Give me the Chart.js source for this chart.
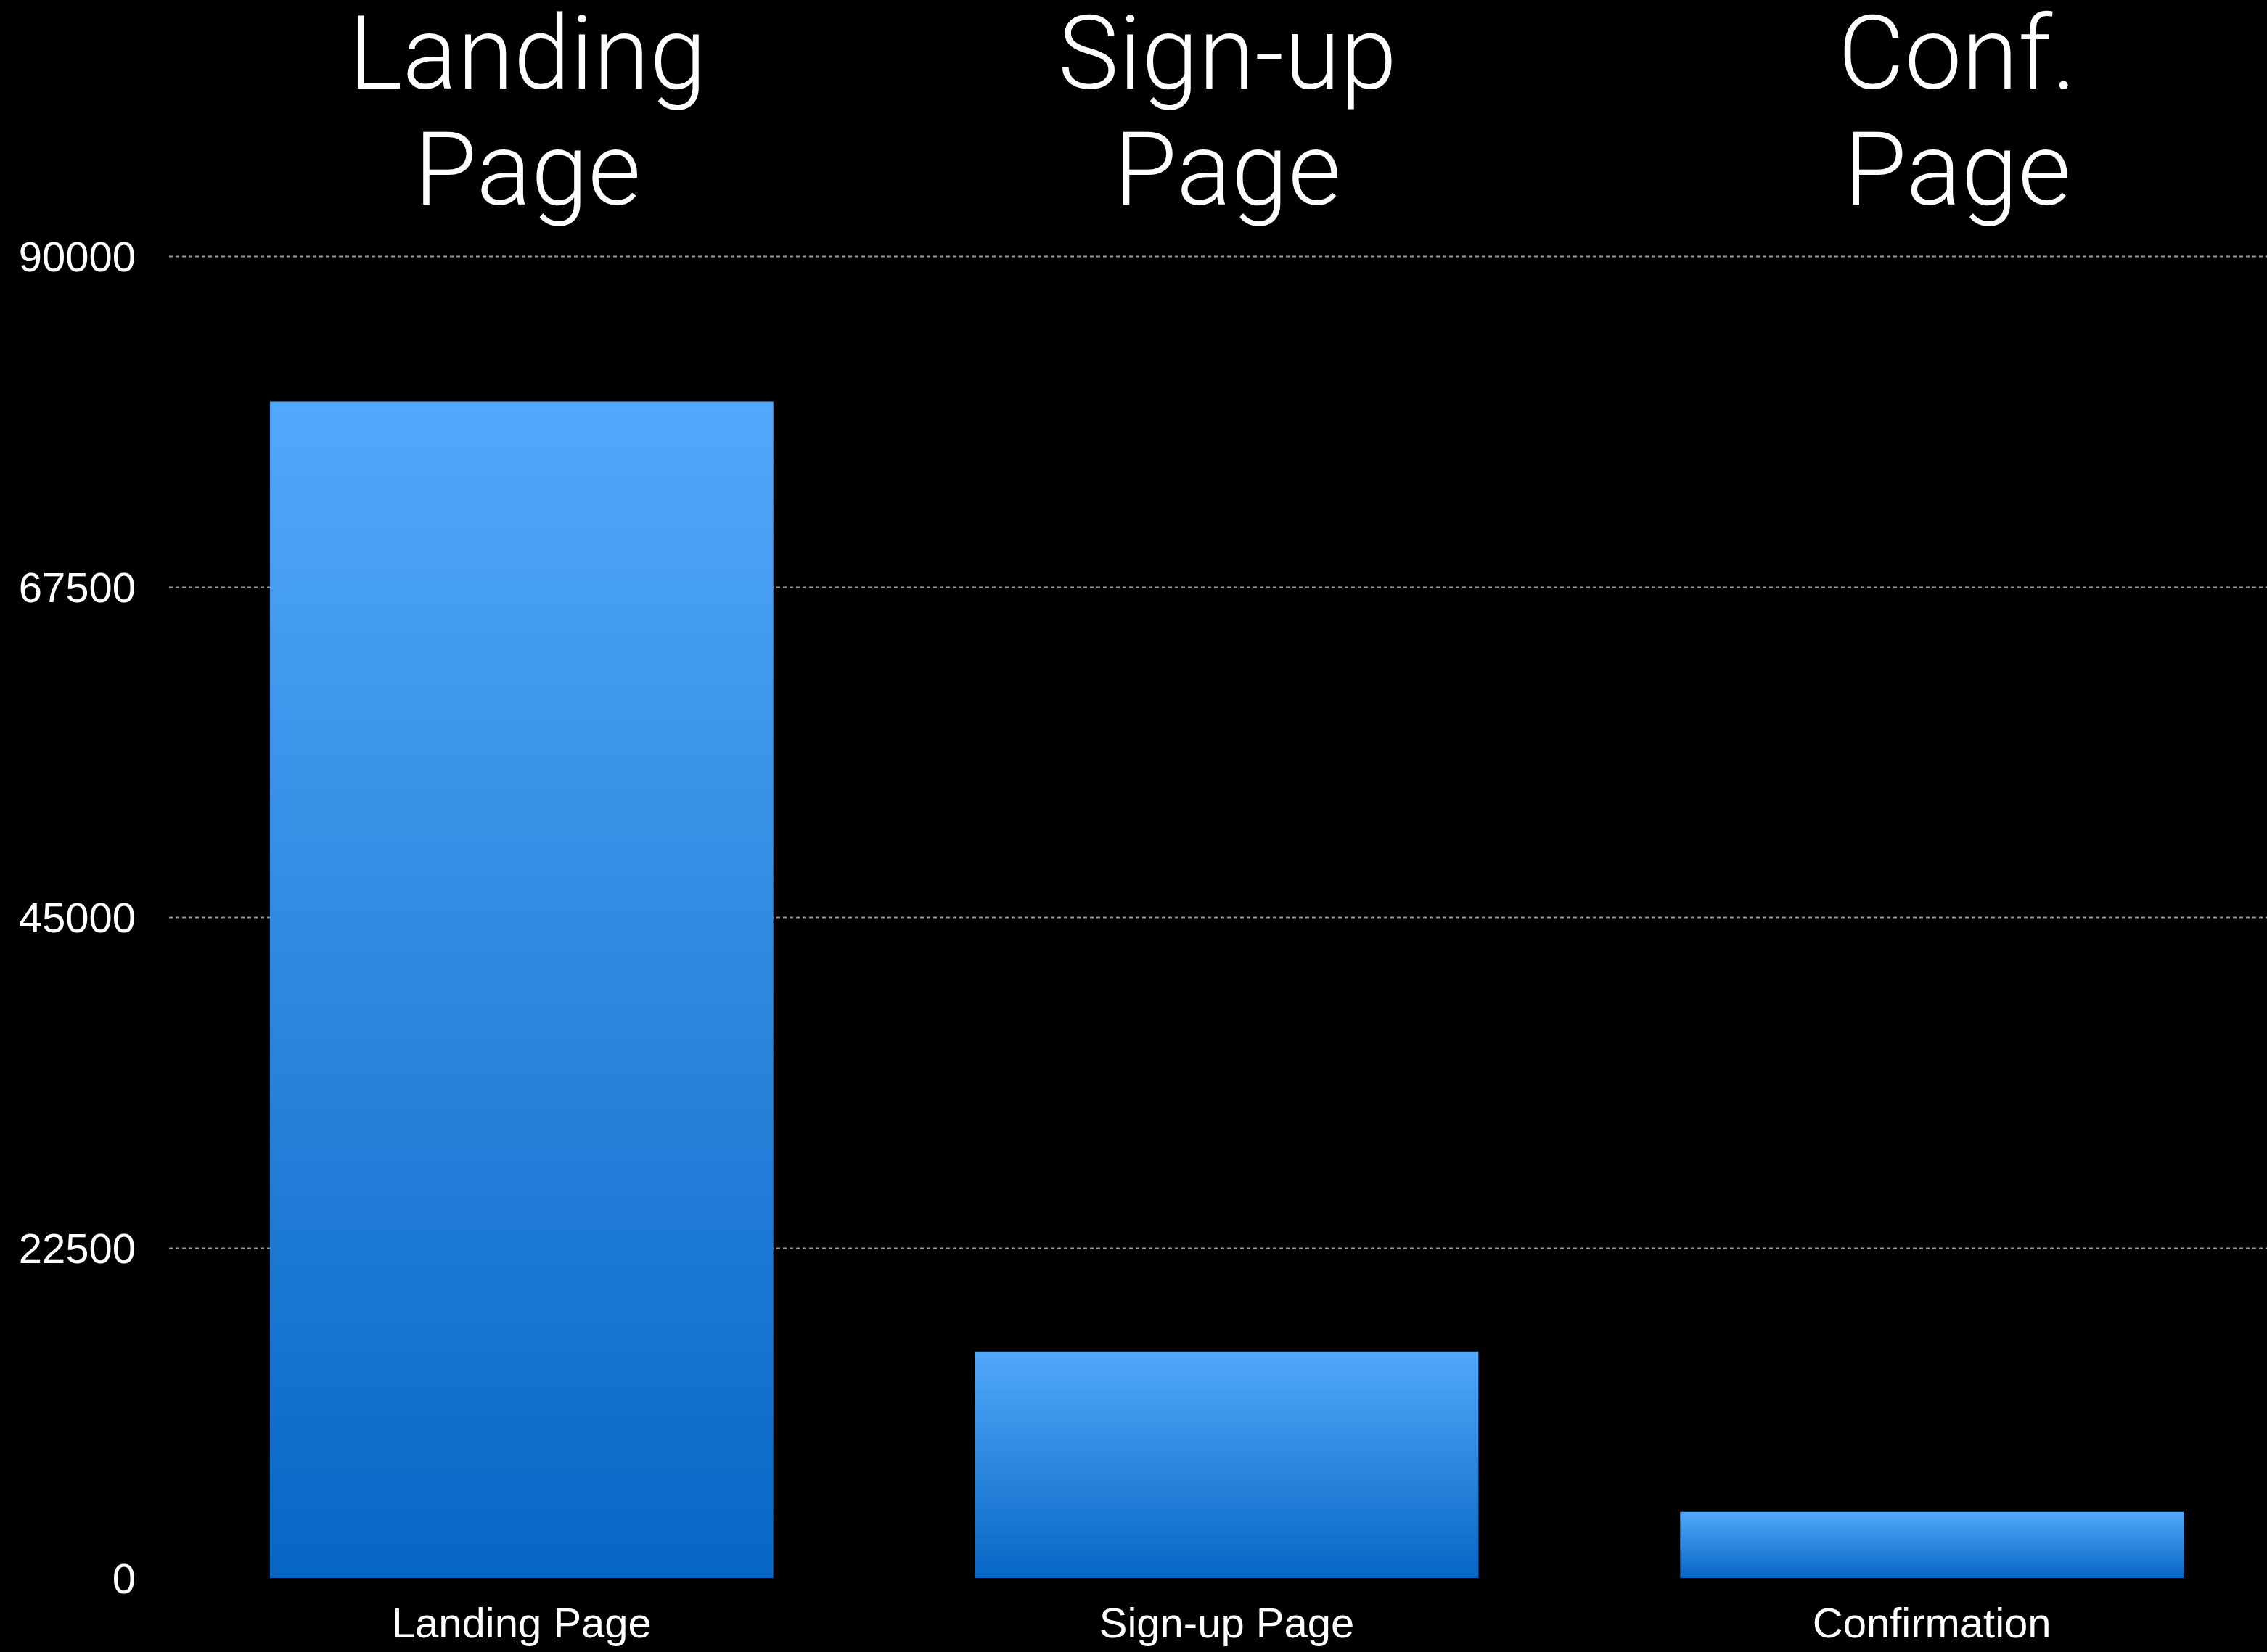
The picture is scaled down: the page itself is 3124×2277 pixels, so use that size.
<!DOCTYPE html>
<html>
<head>
<meta charset="utf-8">
<script src="https://cdn.jsdelivr.net/npm/chart.js@4"></script>
<style>
html,body{margin:0;padding:0;background:#000;overflow:hidden;}
canvas{display:block;}
</style>
</head>
<body>
<canvas id="c" width="3148" height="2277"></canvas>
<script>
const categories = ["Landing Page", "Sign-up Page", "Confirmation"];
const visitors = [80100, 15420, 4510];
const titleLines = [["Landing", "Page"], ["Sign-up", "Page"], ["Conf.", "Page"]];
const yTicks = [0, 22500, 45000, 67500, 90000];

const topColor = "#52A8FA";
const bottomColor = "#0766C4";

function barGradient(context) {
  const chart = context.chart;
  const y = chart.scales && chart.scales.y;
  if (!y || context.dataIndex === undefined) return topColor;
  const v = context.dataset.data[context.dataIndex];
  const top = y.getPixelForValue(v);
  const base = y.getPixelForValue(0);
  if (!isFinite(top) || !isFinite(base) || top === base) return topColor;
  const g = chart.ctx.createLinearGradient(0, top, 0, base);
  g.addColorStop(0, topColor);
  g.addColorStop(1, bottomColor);
  return g;
}

const titlePlugin = {
  id: "titles",
  afterDraw(chart) {
    const ctx = chart.ctx;
    const x = chart.scales.x;
    const shifts = [8, 1, 35];
    ctx.save();
    ctx.fillStyle = "#ffffff";
    ctx.font = "300 141px Roboto, 'Liberation Sans', sans-serif";
    ctx.textAlign = "center";
    ctx.textBaseline = "alphabetic";
    titleLines.forEach((lines, i) => {
      const cx = x.getPixelForValue(i) + shifts[i];
      lines.forEach((t, j) => ctx.fillText(t, cx, 122 + j * 160));
    });
    ctx.restore();
  }
};

const dashedGrid = {
  id: "dashedGrid",
  beforeDatasetsDraw(chart) {
    const ctx = chart.ctx;
    const y = chart.scales.y;
    ctx.save();
    ctx.strokeStyle = "#9a9a9a";
    ctx.lineWidth = 2;
    ctx.setLineDash([5, 4]);
    yTicks.forEach(v => {
      if (v === 0) return;
      const py = Math.round(y.getPixelForValue(v)) + 0.5;
      ctx.beginPath();
      ctx.moveTo(chart.chartArea.left, py);
      ctx.lineTo(chart.width, py);
      ctx.stroke();
    });
    ctx.restore();
  }
};

new Chart(document.getElementById("c"), {
  type: "bar",
  data: {
    labels: categories,
    datasets: [{
      data: visitors,
      backgroundColor: barGradient,
      borderWidth: 0,
      barPercentage: 0.714,
      categoryPercentage: 1.0
    }]
  },
  options: {
    responsive: false,
    animation: false,
    devicePixelRatio: 1,
    layout: { padding: { top: 353, left: 0, right: 0, bottom: 0 } },
    plugins: {
      legend: { display: false },
      tooltip: { enabled: false },
      title: { display: false }
    },
    scales: {
      x: {
        afterFit(scale) { scale.height = 102; },
        grid: { display: false, drawTicks: false },
        border: { display: false },
        ticks: {
          color: "#ffffff",
          font: { family: "'Liberation Sans', Arial, sans-serif", size: 58 },
          padding: 31,
          maxRotation: 0,
          autoSkip: false
        }
      },
      y: {
        min: 0,
        max: 90000,
        afterBuildTicks(scale) { scale.ticks = yTicks.map(v => ({ value: v })); },
        afterFit(scale) { scale.width = 233; },
        grid: { display: false, drawTicks: false },
        border: { display: false },
        ticks: {
          color: "#ffffff",
          font: { family: "'Liberation Sans', Arial, sans-serif", size: 58 },
          padding: 46,
          labelOffset: 5,
          callback: v => String(v)
        }
      }
    }
  },
  plugins: [dashedGrid, titlePlugin]
});
</script>
</body>
</html>
